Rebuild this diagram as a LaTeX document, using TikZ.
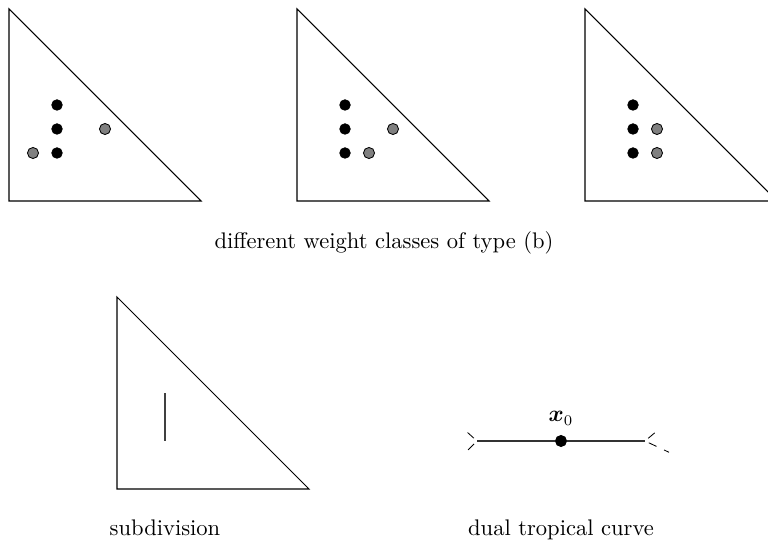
\documentclass[tikz,border=0pt]{standalone}
\usepackage{tikz}
\usetikzlibrary{calc, positioning}
\usepackage{amsmath}
\usepackage{amssymb}
\tikzset{
    polygon/.style={draw=black, line width=0.5pt},
    subdiv/.style={draw=black!75, line width=0.5pt},
    interior/.style={
        circle, draw=black, fill=black,
        inner sep=0pt, minimum size=1.75mm
    },
    weighted/.style={
        circle, draw=black, fill=black!50, line width=0.4pt,
        inner sep=0pt, minimum size=1.85mm
    },
    vertex/.style={
        circle, draw=black, fill=black,
        inner sep=0pt, minimum size=1.85mm
    },
    caption/.style={font=\fontsize{10.7pt}{13pt}\selectfont, anchor=base},
    tropedge/.style={draw=black!80, line width=0.5pt},
    ray/.style={draw=black, line width=0.4pt,
        dash pattern=on 4pt off 4pt, dash phase=6pt}
}

\begin{document}
\begin{tikzpicture}[x=0.4cm, y=0.4cm]
    \useasboundingbox (-0.375,-14.25) rectangle (31.625,8.375);

    % weight classes of type (b)
    \draw[polygon] (0,0) -- (8,0) -- (0,8) -- cycle;
    \node[interior] (a1) at (2,2) {};
    \node[interior] (a2) at (2,3) {};
    \node[interior] (a3) at (2,4) {};
    \node[weighted] (a4) at (1,2) {};
    \node[weighted] (a5) at (4,3) {};

    \draw[polygon] (12,0) -- (20,0) -- (12,8) -- cycle;
    \node[interior] (b1) at (14,2) {};
    \node[interior] (b2) at (14,3) {};
    \node[interior] (b3) at (14,4) {};
    \node[weighted] (b4) at (15,2) {};
    \node[weighted] (b5) at (16,3) {};

    \draw[polygon] (24,0) -- (32,0) -- (24,8) -- cycle;
    \node[interior] (c1) at (26,2) {};
    \node[interior] (c2) at (26,3) {};
    \node[interior] (c3) at (26,4) {};
    \node[weighted] (c4) at (27,2) {};
    \node[weighted] (c5) at (27,3) {};

    \node[caption] (classes) at (15.625,-1.97) {different weight classes of type (b)};

    % subdivision
    \draw[polygon] (4.5,-12) -- (12.5,-12) -- (4.5,-4) -- cycle;
    \coordinate (s0) at (6.5,-10);
    \coordinate (s1) at (6.5,-8);
    \draw[subdiv] (s0) -- (s1);
    \node[caption] (subdivlabel) at (6.5,-13.92) {subdivision};

    % dual tropical curve
    \coordinate (l) at (19.5,-10);
    \coordinate (r) at (26.5,-10);
    \node[vertex] (x0) at (23,-10) {};
    \node[above=1.2mm of x0, inner sep=1pt, font=\fontsize{10.7pt}{13pt}\selectfont] (x0label) {$\boldsymbol{x}_0$};
    \draw[tropedge] (l) -- (x0) -- (r);
    \coordinate (lu) at ($(l)+(-0.5,0.45)$);
    \coordinate (ld) at ($(l)+(-0.38,-0.38)$);
    \coordinate (ru) at ($(r)+(0.5,0.42)$);
    \coordinate (rd) at ($(r)+(1.0,-0.47)$);
    \draw[ray] (l) -- (lu);
    \draw[ray] (l) -- (ld);
    \draw[ray] (r) -- (ru);
    \draw[ray] (r) -- (rd);
    \node[caption] (curvelabel) at (23,-13.92) {dual tropical curve};
\end{tikzpicture}
\end{document}
